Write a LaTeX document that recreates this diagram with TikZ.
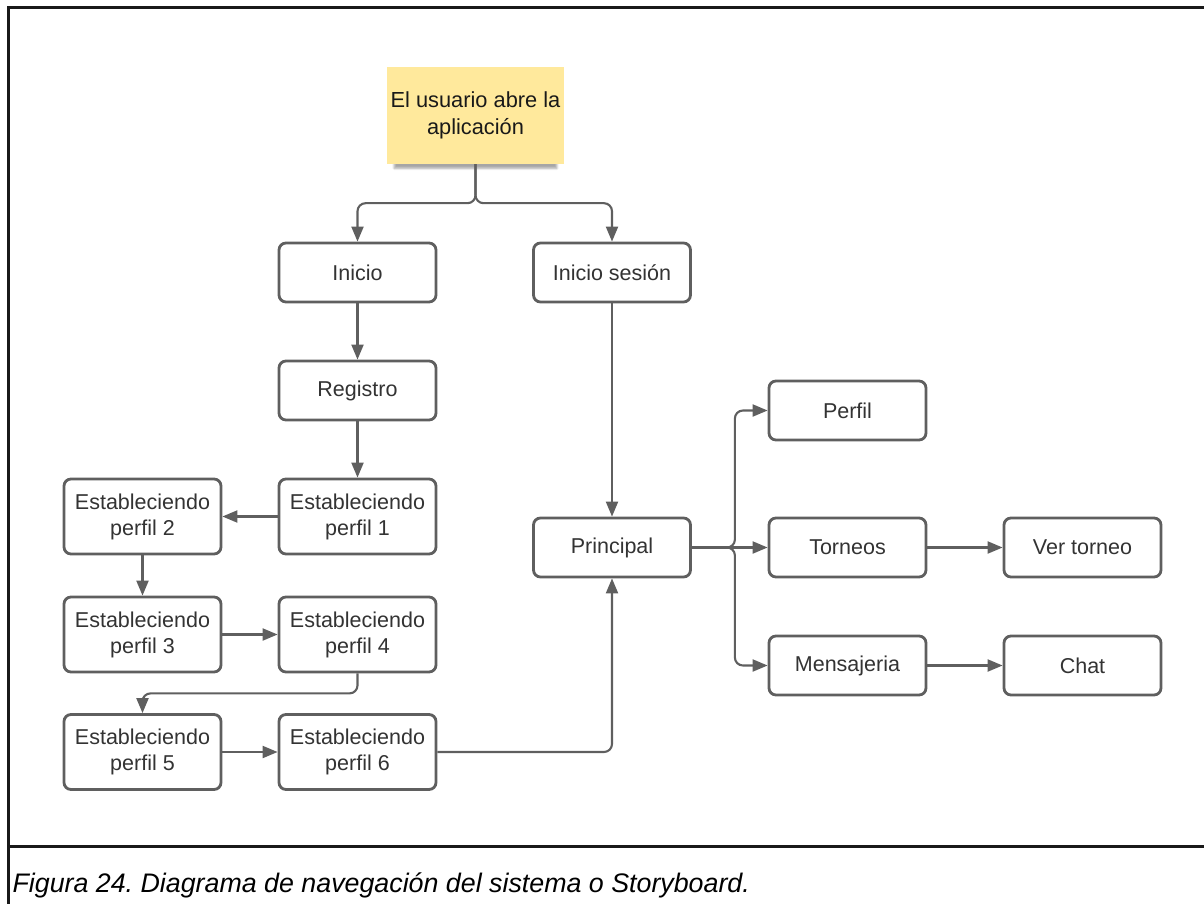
\documentclass[tikz,border=0pt]{standalone}
\usepackage{fontspec}
\setmainfont{Liberation Sans}
\usetikzlibrary{arrows.meta,shadows.blur}
\definecolor{boxline}{HTML}{5F5F5F}
\definecolor{boxtext}{HTML}{333333}
\definecolor{sticky}{HTML}{FFE99C}
\frenchspacing
\tikzset{
  screen/.style={draw=boxline, line width=2.8pt, rounded corners=7pt, fill=white,
    minimum width=157pt, minimum height=59pt, align=center, text=boxtext,
    font=\fontsize{21.5}{26}\selectfont, inner sep=0pt},
  tallscreen/.style={screen, minimum height=75pt},
  note/.style={fill=sticky, minimum width=177pt, minimum height=97pt, align=center,
    text=black!90, font=\fontsize{21.8}{27}\selectfont, inner sep=0pt,
    blur shadow={shadow xshift=0pt, shadow yshift=-9pt, shadow scale=0.92, shadow blur steps=8, shadow opacity=35}},
  conn/.style={draw=boxline, line width=2.1pt, rounded corners=8pt,
    -{Triangle[length=15pt,width=12pt]}},
  frame/.style={draw=black!90, line width=3pt}
}
\begin{document}
\begin{tikzpicture}[x=1pt,y=-1pt]
\useasboundingbox (0,0) rectangle (1204,904);
% page frame and caption rule
\draw[frame] (1204,8) -- (8,8) -- (8,904);
\draw[frame] (8,846) -- (1204,846);
\node[anchor=base west, font=\fontsize{26.8}{30}\selectfont\itshape, text=black] (caption)
  at (9,892) {Figura 24. Diagrama de navegación del sistema o Storyboard.};

% starting note
\node[note] (start) at (475.5,115.5) {El usuario abre la\\aplicación};

% screens
\node[screen] (inicio) at (357.5,272.5) {Inicio};
\node[screen] (sesion) at (612,272.5) {Inicio sesión};
\node[screen] (registro) at (357.5,390.5) {Registro};
\node[tallscreen] (p1) at (357.5,516.5) {Estableciendo\\perfil 1};
\node[tallscreen] (p2) at (142.5,516.5) {Estableciendo\\perfil 2};
\node[tallscreen] (p3) at (142.5,634.5) {Estableciendo\\perfil 3};
\node[tallscreen] (p4) at (357.5,634.5) {Estableciendo\\perfil 4};
\node[tallscreen] (p5) at (142.5,752) {Estableciendo\\perfil 5};
\node[tallscreen] (p6) at (357.5,752) {Estableciendo\\perfil 6};
\node[screen] (principal) at (612,547.5) {Principal};
\node[screen] (perfil) at (847.5,410.5) {Perfil};
\node[screen] (torneos) at (847.5,547.5) {Torneos};
\node[screen] (mensajes) at (847.5,665.5) {Mensajeria};
\node[screen] (ver) at (1082.5,547.5) {Ver torneo};
\node[screen] (chat) at (1082.5,665.5) {Chat};

% navigation flow
\draw[conn] (start.south) -- ++(0,39) -| (inicio.north);
\draw[conn] (start.south) -- ++(0,39) -| (sesion.north);
\draw[conn] (inicio) -- (registro);
\draw[conn] (registro) -- (p1);
\draw[conn] (p1) -- (p2);
\draw[conn] (p2) -- (p3);
\draw[conn] (p3) -- (p4);
\draw[conn] (p4.south) -- ++(0,20) -| (p5.north);
\draw[conn] (p5) -- (p6);
\draw[conn] (p6.east) -| (principal.south);
\draw[conn] (sesion) -- (principal);
\draw[conn] (principal.east) -- ++(43,0) |- (perfil.west);
\draw[conn] (principal) -- (torneos);
\draw[conn] (principal.east) -- ++(43,0) |- (mensajes.west);
\draw[conn] (torneos) -- (ver);
\draw[conn] (mensajes) -- (chat);
\end{tikzpicture}
\end{document}
